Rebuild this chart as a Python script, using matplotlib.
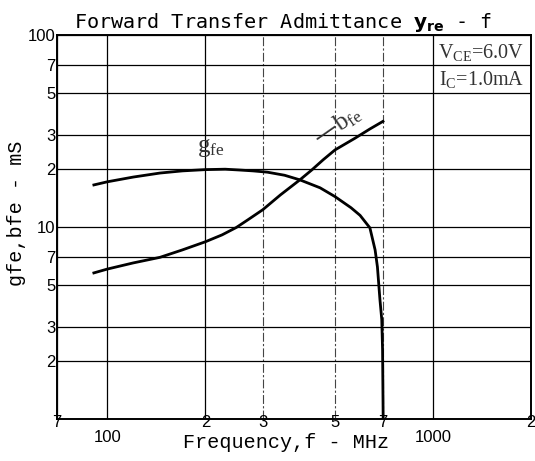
import matplotlib
matplotlib.use("Agg")
import matplotlib.pyplot as plt
from matplotlib.ticker import FixedLocator, FixedFormatter, NullLocator

# ---- data ----
gfe_freq = [90, 100, 120, 145, 170, 200, 230, 255, 280, 310, 350, 390, 450, 500, 560, 597, 640, 664, 675, 687, 696, 700, 703]
gfe_vals = [16.5, 17.2, 18.2, 19.1, 19.6, 19.9, 20.0, 19.8, 19.6, 19.3, 18.6, 17.6, 16.0, 14.4, 12.6, 11.5, 9.9, 7.6, 6.2, 4.2, 3.3, 2.3, 1.0]

bfe_freq = [90, 100, 120, 145, 170, 200, 225, 249, 270, 300, 340, 390, 424, 460, 500, 576, 640, 708]
bfe_vals = [5.74, 6.04, 6.5, 6.95, 7.6, 8.38, 9.1, 9.95, 10.9, 12.3, 14.7, 17.6, 19.8, 22.4, 25.2, 29.0, 32.4, 35.8]

x_major = [70, 200, 300, 500, 700, 2000]
x_major_labels = ['7', '2', '3', '5', '7', '2']
x_minor = [100, 1000]
x_minor_labels = ['100', '1000']
y_ticks = [2, 3, 5, 7, 10, 20, 30, 50, 70, 100]
y_labels = ['2', '3', '5', '7', '10', '2', '3', '5', '7', '100']

W, H = 535, 461
fig = plt.figure(figsize=(W / 100, H / 100), dpi=100)
L, R, T, B = 57, 531, 35, 419
ax = fig.add_axes([L / W, 1 - B / H, (R - L) / W, (B - T) / H])
ax.set_xscale('log')
ax.set_yscale('log')
ax.set_xlim(70, 2000)
ax.set_ylim(1, 100)

ax.xaxis.set_major_locator(FixedLocator(x_major))
ax.xaxis.set_major_formatter(FixedFormatter(x_major_labels))
ax.xaxis.set_minor_locator(FixedLocator(x_minor))
ax.xaxis.set_minor_formatter(FixedFormatter(x_minor_labels))
ax.yaxis.set_major_locator(FixedLocator(y_ticks))
ax.yaxis.set_major_formatter(FixedFormatter(y_labels))
ax.yaxis.set_minor_locator(NullLocator())

tick_font = 'Liberation Sans'
ax.tick_params(axis='both', which='both', length=0, labelsize=12)
ax.tick_params(axis='x', which='major', pad=-3)
ax.tick_params(axis='x', which='minor', pad=8)
ax.tick_params(axis='y', which='major', pad=1)
for lab in ax.get_xticklabels(which='both') + ax.get_yticklabels():
    lab.set_fontfamily(tick_font)

ax.grid(True, which='both', axis='both', color='black', linewidth=0.9)
for x, gl in zip(x_major, ax.xaxis.get_gridlines()):
    if x in (300, 500, 700):
        gl.set_color('#444444')
        gl.set_linestyle((0, (8, 2, 2, 2)))
        gl.set_linewidth(0.8)
ax.set_axisbelow(True)

for s in ax.spines.values():
    s.set_linewidth(1.4)
    s.set_color('black')

ax.plot(gfe_freq, gfe_vals, color='black', linewidth=2.0, solid_capstyle='butt')
ax.plot(bfe_freq, bfe_vals, color='black', linewidth=2.0, solid_capstyle='butt')

ax.text(188, 25.8, r'g$\mathregular{_{fe}}$', fontsize=18, family='Liberation Serif',
        color='#333333', ha='left', va='center')
ax.text(510, 33.5, '\u2014b$\\mathregular{_{fe}}$', fontsize=18, family='Liberation Serif',
        color='#333333', ha='center', va='center', rotation=35)

bbox = dict(facecolor='white', edgecolor='none', pad=1)
ax.text(0.985, 0.955, r'V$\mathregular{_{CE}}$=6.0V', transform=ax.transAxes, fontsize=14.5,
        family='Liberation Serif', color='#333333', ha='right', va='center', bbox=bbox)
ax.text(0.985, 0.885, r'I$\mathregular{_{C}}$=1.0mA', transform=ax.transAxes, fontsize=14.5,
        family='Liberation Serif', color='#333333', ha='right', va='center', bbox=bbox)

fig.text(283 / W, 1 - 22 / H, r'Forward Transfer Admittance $\mathbf{y_{re}}$ - f',
         fontsize=14.5, family='DejaVu Sans Mono', ha='center', va='center')
fig.text(286 / W, 1 - 442 / H, 'Frequency,f - MHz', fontsize=14.5,
         family='Liberation Mono', ha='center', va='center')
fig.text(17 / W, 1 - 213 / H, 'gfe,bfe - mS', fontsize=14.5, family='Liberation Mono',
         ha='center', va='center', rotation=90)

fig.savefig('out.png', dpi=100)
